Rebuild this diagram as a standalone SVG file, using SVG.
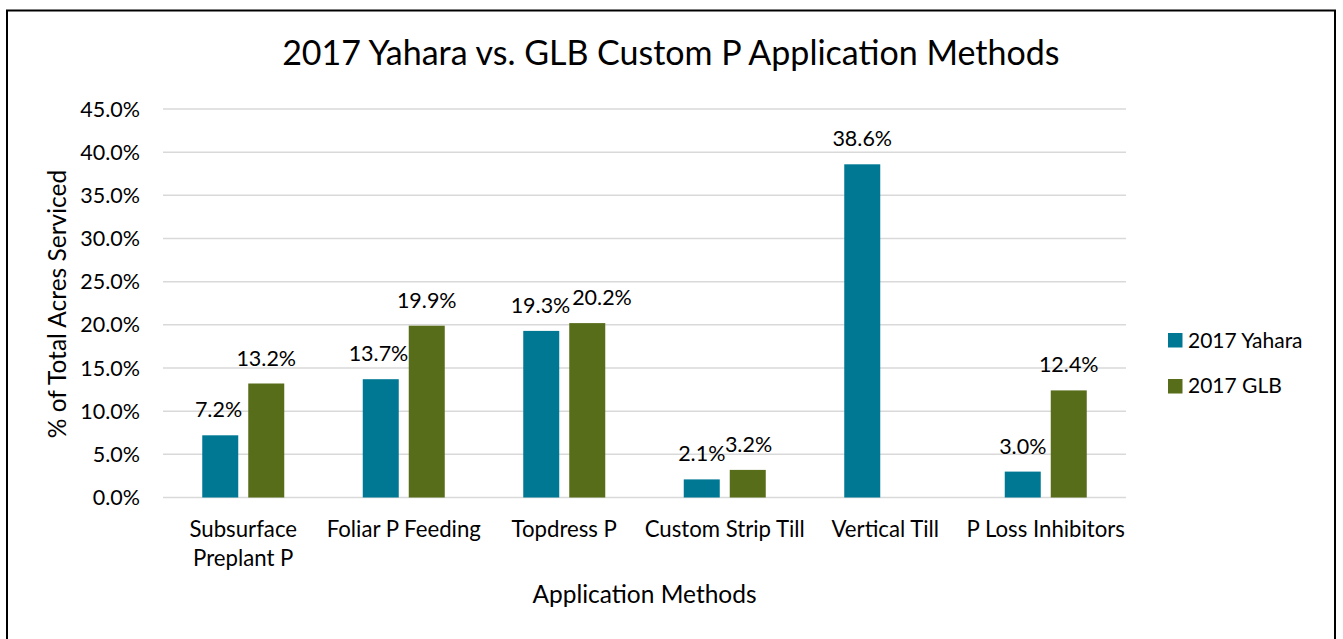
<svg xmlns="http://www.w3.org/2000/svg" width="1343" height="639" viewBox="0 0 1343 639">
<style>
text{font-family:Lato,"Open Sans",sans-serif;fill:#000}
.title{font-size:34px;text-anchor:middle}
.tick{font-size:21.5px;text-anchor:end}
.cat{font-size:22.2px;text-anchor:middle}
.val{font-size:21.5px;text-anchor:middle}
.axt{font-size:24.5px;text-anchor:middle}
.leg{font-size:21px}
.grid{stroke:#d9d9d9;stroke-width:1.5}
.y{fill:#007894}
.g{fill:#586d1a}
</style>
<rect width="1343" height="639" fill="#fff"/>
<rect x="7" y="10.5" width="1328" height="660" fill="none" stroke="#000" stroke-width="2"/>
<text class="title" x="670.8" y="65">2017 Yahara vs. GLB Custom P Application Methods</text>
<g id="gridlines">
<line class="grid" x1="163" x2="1126" y1="109" y2="109"/>
<line class="grid" x1="163" x2="1126" y1="152.2" y2="152.2"/>
<line class="grid" x1="163" x2="1126" y1="195.3" y2="195.3"/>
<line class="grid" x1="163" x2="1126" y1="238.5" y2="238.5"/>
<line class="grid" x1="163" x2="1126" y1="281.7" y2="281.7"/>
<line class="grid" x1="163" x2="1126" y1="324.8" y2="324.8"/>
<line class="grid" x1="163" x2="1126" y1="368" y2="368"/>
<line class="grid" x1="163" x2="1126" y1="411.2" y2="411.2"/>
<line class="grid" x1="163" x2="1126" y1="454.3" y2="454.3"/>
<line class="grid" x1="163" x2="1126" y1="497.5" y2="497.5"/>
</g>
<g id="yaxis">
<text class="tick" x="140" y="116.5">45.0%</text>
<text class="tick" x="140" y="159.7">40.0%</text>
<text class="tick" x="140" y="202.8">35.0%</text>
<text class="tick" x="140" y="246">30.0%</text>
<text class="tick" x="140" y="289.2">25.0%</text>
<text class="tick" x="140" y="332.3">20.0%</text>
<text class="tick" x="140" y="375.5">15.0%</text>
<text class="tick" x="140" y="418.7">10.0%</text>
<text class="tick" x="140" y="461.8">5.0%</text>
<text class="tick" x="140" y="505">0.0%</text>
<text class="axt" transform="translate(65.5,304) rotate(-90)">% of Total Acres Serviced</text>
</g>
<g id="subsurface">
<rect class="y" x="202.25" y="435.3" width="36" height="62.2"/>
<rect class="g" x="248.25" y="383.5" width="36" height="114"/>
<text class="val" x="218.5" y="417.3">7.2%</text>
<text class="val" x="266.25" y="365.5">13.2%</text>
<text class="cat" x="243.25" y="537">Subsurface</text>
<text class="cat" x="243.25" y="566">Preplant P</text>
</g>
<g id="foliar">
<rect class="y" x="362.75" y="379.2" width="36" height="118.3"/>
<rect class="g" x="408.75" y="325.7" width="36" height="171.8"/>
<text class="val" x="378.5" y="361.2">13.7%</text>
<text class="val" x="426.75" y="307.7">19.9%</text>
<text class="cat" x="403.75" y="537">Foliar P Feeding</text>
</g>
<g id="topdress">
<rect class="y" x="523.25" y="330.9" width="36" height="166.6"/>
<rect class="g" x="569.25" y="323.1" width="36" height="174.4"/>
<text class="val" x="540.5" y="312.9">19.3%</text>
<text class="val" x="602" y="305.1">20.2%</text>
<text class="cat" x="564.25" y="537">Topdress P</text>
</g>
<g id="striptill">
<rect class="y" x="683.75" y="479.4" width="36" height="18.1"/>
<rect class="g" x="729.75" y="469.9" width="36" height="27.6"/>
<text class="val" x="701.75" y="461.4">2.1%</text>
<text class="val" x="748.5" y="451.9">3.2%</text>
<text class="cat" x="724.75" y="537">Custom Strip Till</text>
</g>
<g id="verticaltill">
<rect class="y" x="844.25" y="164.3" width="36" height="333.2"/>
<text class="val" x="862.25" y="146.3">38.6%</text>
<text class="cat" x="885.25" y="537">Vertical Till</text>
</g>
<g id="plossinhibitors">
<rect class="y" x="1004.75" y="471.6" width="36" height="25.9"/>
<rect class="g" x="1050.75" y="390.4" width="36" height="107.1"/>
<text class="val" x="1022.75" y="453.6">3.0%</text>
<text class="val" x="1068.75" y="372.4">12.4%</text>
<text class="cat" x="1045.75" y="537">P Loss Inhibitors</text>
</g>
<text class="axt" x="644.5" y="603">Application Methods</text>
<g id="legend">
<rect class="y" x="1168" y="333" width="14.5" height="14.5"/>
<text class="leg" x="1188" y="347.5">2017 Yahara</text>
<rect class="g" x="1168" y="379" width="14.5" height="14.5"/>
<text class="leg" x="1188" y="393">2017 GLB</text>
</g>
</svg>
